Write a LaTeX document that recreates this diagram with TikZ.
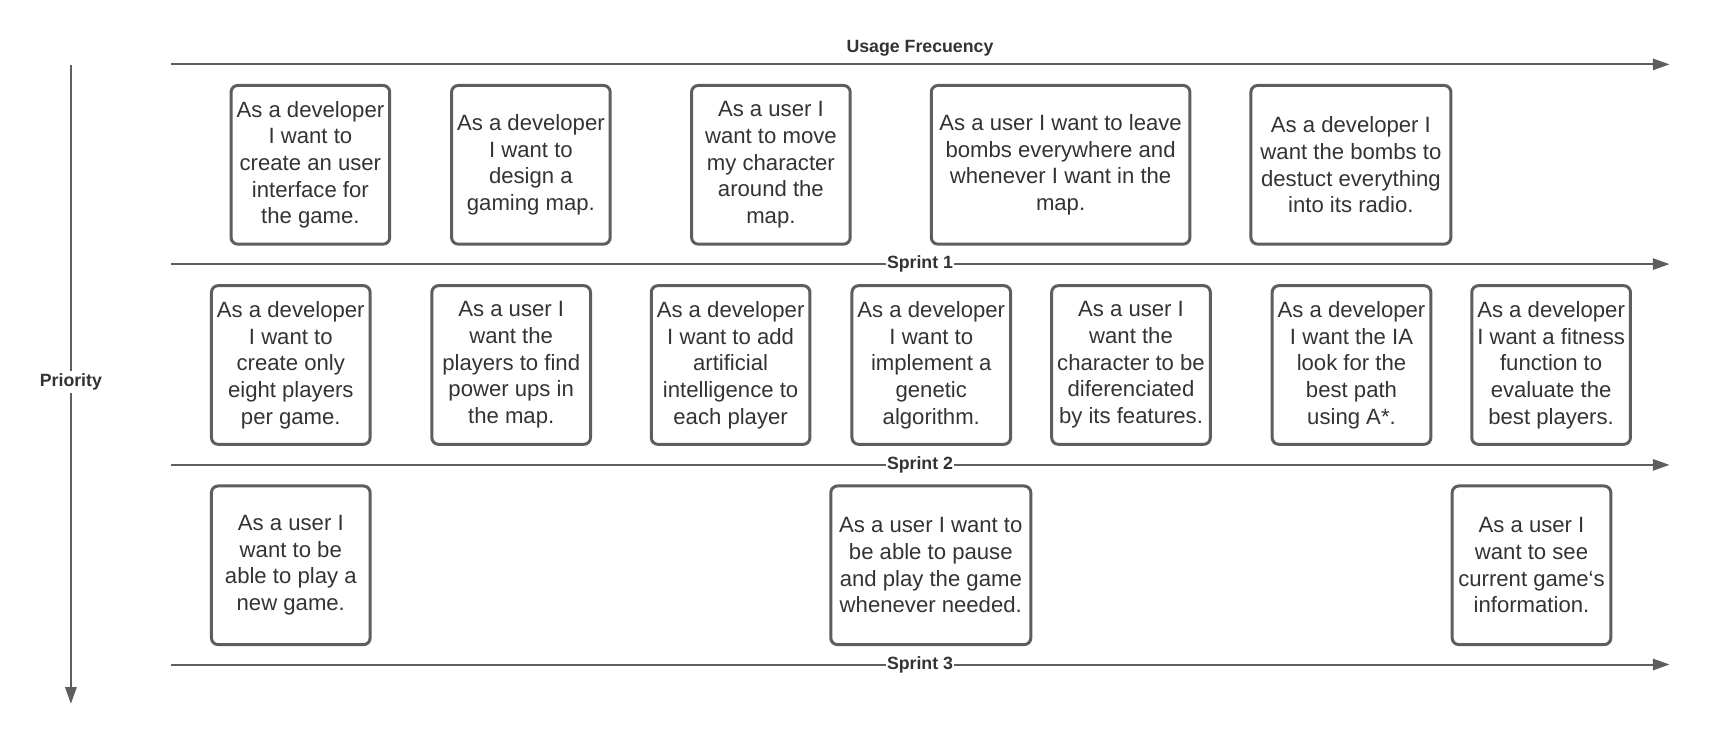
\documentclass[tikz,border=0pt]{standalone}
\usepackage{fontspec}
\setmainfont{Liberation Sans}
\usetikzlibrary{arrows.meta}
\definecolor{ln}{HTML}{5E5E5E}
\definecolor{tx}{HTML}{333333}
\begin{document}
\begin{tikzpicture}[x=0.75pt,y=-0.75pt,
  story/.style={draw=ln, line width=2.25pt, rounded corners=5pt, minimum height=119pt,
    minimum width=119pt, text=tx, align=center, inner sep=0pt,
    font=\fontsize{16.6}{20}\selectfont},
  wide/.style={minimum width=194pt},
  mid/.style={minimum width=150pt},
  axis/.style={draw=ln, line width=1.5pt, -{Triangle[length=12.5pt,width=8.5pt]}},
  lbl/.style={font=\bfseries\fontsize{13.3}{15}\selectfont, text=tx},
  onl/.style={lbl, fill=white, inner sep=0.6pt}]
\useasboundingbox (0,0) rectangle (1711,745);
% axes
\coordinate (ua) at (171.3,64.4);  \coordinate (ub) at (1669.5,64.4);
\coordinate (s1a) at (171.3,264.1); \coordinate (s1b) at (1669.5,264.1);
\coordinate (s2a) at (171.3,464.9); \coordinate (s2b) at (1669.5,464.9);
\coordinate (s3a) at (171.3,664.5); \coordinate (s3b) at (1669.5,664.5);
\coordinate (pa) at (70.9,65.5);    \coordinate (pb) at (70.9,703.8);
\draw[axis] (ua) -- (ub);
\draw[axis] (s1a) -- (s1b);
\draw[axis] (s2a) -- (s2b);
\draw[axis] (s3a) -- (s3b);
\draw[axis] (pa) -- (pb);
\node[lbl] (usage) at (920,48) {Usage Frecuency};
\node[onl] (sp1) at (920,264.1) {Sprint 1};
\node[onl] (sp2) at (920,464.9) {Sprint 2};
\node[onl] (sp3) at (920,664.5) {Sprint 3};
\node[onl,inner sep=2pt] (prio) at (70.9,382) {Priority};
% row 1
\node[story] (a1) at (310.4,164.8) {As a developer\\I want to\\create an user\\interface for\\the game.};
\node[story] (a2) at (530.9,164.8) {As a developer\\I want to\\design a\\gaming map.};
\node[story] (a3) at (770.9,164.8) {As a user I\\want to move\\my character\\around the\\map.};
\node[story,wide] (a4) at (1060.6,164.8) {As a user I want to leave\\bombs everywhere and\\whenever I want in the\\map.};
\node[story,mid] (a5) at (1350.9,164.8) {As a developer I\\want the bombs to\\destuct everything\\into its radio.};
% row 2
\node[story] (b1) at (290.8,365) {As a developer\\I want to\\create only\\eight players\\per game.};
\node[story] (b2) at (511.2,365) {As a user I\\want the\\players to find\\power ups in\\the map.};
\node[story] (b3) at (730.6,365) {As a developer\\I want to add\\artificial\\intelligence to\\each player};
\node[story] (b4) at (931.3,365) {As a developer\\I want to\\implement a\\genetic\\algorithm.};
\node[story] (b5) at (1131,365) {As a user I\\want the\\character to be\\diferenciated\\by its features.};
\node[story] (b6) at (1351.5,365) {As a developer\\I want the IA\\look for the\\best path\\using A*.};
\node[story] (b7) at (1551.1,365) {As a developer\\I want a fitness\\function to\\evaluate the\\best players.};
% row 3
\node[story] (c1) at (290.8,565.3) {As a user I\\want to be\\able to play a\\new game.};
\node[story,mid] (c2) at (930.8,565.3) {As a user I want to\\be able to pause\\and play the game\\whenever needed.};
\node[story] (c3) at (1531.5,565.3) {As a user I\\want to see\\current game\symbol{96}s\\information.};
\end{tikzpicture}
\end{document}
